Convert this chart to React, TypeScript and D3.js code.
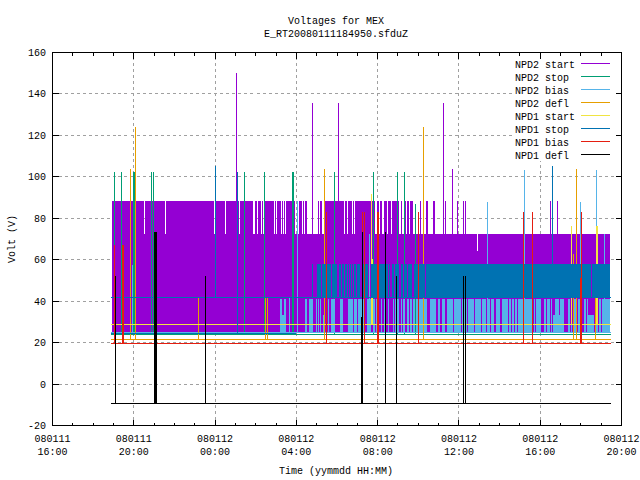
import React from "react";
import * as d3 from "d3";

// Time is hours since 080111 16:00; voltages in volts.
const titleLines = ["Voltages for MEX", "E_RT20080111184950.sfduZ"];
const xTickHours = [0, 4, 8, 12, 16, 20, 24, 28];
const xTickDates = ["080111", "080111", "080112", "080112", "080112", "080112", "080112", "080112"];
const xTickTimes = ["16:00", "20:00", "00:00", "04:00", "08:00", "12:00", "16:00", "20:00"];
const yTicks = [-20, 0, 20, 40, 60, 80, 100, 120, 140, 160];
const legendNames = ["NPD2 start", "NPD2 stop", "NPD2 bias", "NPD2 defl", "NPD1 start", "NPD1 stop", "NPD1 bias", "NPD1 defl"];
const colors = ["#9400d3", "#009e73", "#56b4e9", "#e69f00", "#f0e442", "#0072b2", "#e51e10", "#000000"];

const tStart = 2.95;
const tEnd = 27.46;
const lineEnd = 27.51;

const start2Floor = 24.4;
const start2Mid = 72;
const start2High = 88;
const start2DenseEnd = 17.08;
const start2Gaps: [number, number][] = [
  [4.53, 4.58], [5.56, 5.61], [7.97, 8.02], [8.51, 8.56], [9.2, 9.25], [9.89, 9.99], [10.09, 10.14], [10.29, 10.33],
  [10.38, 10.48], [10.92, 10.97], [11.02, 11.07], [11.27, 11.32], [11.37, 11.42], [11.47, 11.52], [11.96, 12.06],
  [12.11, 12.15], [12.3, 12.35], [12.4, 12.45], [12.55, 13.09], [13.14, 13.19], [13.29, 13.39], [14.37, 14.42],
  [14.52, 14.57], [14.76, 14.81], [14.86, 14.91], [15.9, 15.99], [16.09, 16.14], [16.24, 16.34], [16.49, 16.53],
  [16.68, 16.73],
];
const start2Stripes: [number, number][] = [
  [17.17, 17.22], [17.37, 17.42], [17.47, 17.57], [17.62, 17.76], [18.11, 18.16], [18.4, 18.5], [18.75, 18.85],
  [19.34, 19.39], [19.93, 19.98], [20.23, 20.27], [20.32, 20.37], [24.51, 24.56], [24.85, 24.9],
];
const start2MidGap: [number, number, number] = [20.91, 20.96, 64];
const start2Spikes: [number, number][] = [[9.05, 150], [12.79, 135.5], [14.07, 135.5], [19.24, 135.5], [19.68, 103.5]];

const stop2Base = 23.9;
const stop2Spikes: [number, number][] = [
  [3.05, 102], [3.4, 102], [3.99, 102], [4.04, 102], [4.87, 102], [4.97, 102], [9.45, 102], [10.43, 102], [11.81, 102],
  [11.86, 102], [13.88, 102], [15.8, 102], [16.98, 102], [17.32, 102], [17.86, 86.6],
];

const bias2Base = 24.85;
const bias2High = 41;
const bias2Low = 33;
const bias2Runs: [number, number][] = [
  [11.22, 11.32], [11.42, 11.52], [12.45, 12.55], [12.65, 12.84], [12.99, 13.04], [13.09, 13.14], [13.19, 13.24],
  [13.39, 13.43], [13.48, 13.53], [13.58, 13.63], [13.73, 13.93], [14.17, 14.32], [14.57, 14.81], [14.86, 15.01],
  [15.06, 15.26], [15.3, 15.4], [15.5, 15.7], [15.8, 15.9], [15.94, 16.04], [16.19, 16.24], [16.34, 16.44],
  [16.53, 16.58], [16.78, 16.83], [16.88, 17.08], [17.17, 17.22], [17.27, 17.37], [17.47, 17.57], [17.62, 17.72],
  [17.76, 17.86], [17.91, 18.45], [18.6, 18.9], [19.0, 19.09], [19.19, 19.34], [19.44, 19.73], [19.78, 20.13],
  [20.18, 20.42], [20.47, 20.77], [20.82, 21.11], [21.16, 21.36], [21.41, 21.55], [21.6, 21.75], [21.85, 22.05],
  [22.14, 22.44], [22.49, 22.59], [22.64, 22.74], [22.78, 22.88], [22.93, 23.67], [23.72, 23.77], [23.82, 24.06],
  [24.21, 24.31], [24.36, 24.51], [24.56, 24.6], [24.75, 24.95], [25.0, 25.2], [25.39, 25.49], [25.54, 25.59],
  [25.69, 25.84], [25.88, 25.98], [26.18, 26.28], [26.33, 26.38], [26.77, 26.87], [26.92, 27.02], [27.07, 27.46],
];
const bias2LowRuns: [number, number][] = [[11.32, 11.42], [13.34, 13.43], [24.65, 25.2], [26.38, 26.67]];
const bias2Spikes: [number, number][] = [
  [3.94, 57], [11.66, 42], [12.06, 88], [15.6, 72], [21.41, 87.5], [23.23, 103], [25.98, 87.5], [26.77, 103], [27.16, 72],
];

const defl2Base = 21.6;
const defl2Spikes: [number, number][] = [
  [3.84, 103.5], [4.08, 124], [7.18, 42], [10.48, 42], [10.58, 42], [13.39, 103.5], [18.26, 124], [25.64, 62.5],
  [25.79, 103.5], [26.72, 42],
];

const start1Base = 28.9;
const start1Spikes: [number, number][] = [[15.7, 91.5], [15.75, 60], [25.54, 76], [26.77, 76], [26.82, 76]];

const stop1Low = 42;
const stop1High = 57.5;
const stop1BandStart = 12.79;
const stop1FloorEnd = 12.0;
const stop1Gaps: [number, number][] = [
  [12.84, 13.04], [13.24, 13.29], [13.73, 13.78], [14.02, 14.12], [14.22, 14.27], [14.37, 14.42], [14.52, 14.57],
  [14.62, 14.66], [14.71, 14.76], [14.81, 14.86], [14.96, 15.01], [15.16, 15.3], [15.55, 15.7], [16.53, 16.58],
  [16.63, 16.73], [16.83, 16.88], [17.08, 17.17], [17.27, 17.32], [17.47, 17.52], [17.72, 17.81], [18.36, 18.4],
  [26.52, 26.57],
];
const stop1Spikes: [number, number, number][] = [[8.02, 105, 42], [9.1, 102, 24.4], [24.6, 105, 42]];

const bias1Base = 19.7;
const bias1Spikes: [number, number][] = [
  [3.05, 67], [3.44, 67], [3.49, 67], [13.48, 83], [15.26, 83], [15.35, 83], [15.99, 83], [16.04, 83], [18.01, 83],
  [23.18, 83], [23.62, 83], [25.98, 51], [26.03, 83],
];

const defl1Base = -9.2;
const defl1Spikes: [number, number][] = [
  [3.1, 52], [5.02, 73], [5.07, 73], [5.12, 73], [7.53, 52], [15.21, 32], [15.26, 73], [16.39, 73], [16.93, 52],
  [20.23, 52], [20.32, 52],
];

const font = "'Liberation Mono', monospace";
const fontSize = 10;
const gridColor = "#a0a0a0";

export default function App() {
  const x = d3.scaleLinear().domain([0, 28]).range([52.5, 621.5]);
  const y = d3.scaleLinear().domain([-20, 160]).range([425.5, 52.5]);
  const col = (h: number) => Math.round(x(h) - 0.5);
  const row = (v: number) => Math.round(y(v) - 0.5);

  const band = (a: number, b: number, lo: number, hi: number, color: string, key: string) => (
    <rect key={key} x={col(a)} width={Math.max(1, col(b) - col(a))} y={row(hi)} height={row(lo) - row(hi)} fill={color} />
  );
  const spike = (h: number, top: number, base: number, color: string, key: string) => (
    <rect key={key} x={col(h)} width={1} y={row(top)} height={row(base) - row(top)} fill={color} />
  );
  const hline = (v: number, a: number, b: number, color: string, key: string) => (
    <rect key={key} x={col(a)} width={col(b) - col(a)} y={row(v)} height={1} fill={color} />
  );

  // purple runs at the highest level: the complement of the gaps
  const highRuns: [number, number][] = [];
  let cursor = tStart;
  start2Gaps.forEach(([a, b]) => {
    highRuns.push([cursor, a]);
    cursor = b;
  });
  highRuns.push([cursor, start2DenseEnd]);
  start2Stripes.forEach((s) => highRuns.push(s));

  const stop1Runs: [number, number][] = [];
  cursor = stop1BandStart;
  stop1Gaps.forEach(([a, b]) => {
    stop1Runs.push([cursor, a]);
    cursor = b;
  });
  stop1Runs.push([cursor, tEnd]);

  const minorHours = d3.range(1, 28).filter((h) => h % 4 !== 0);
  const gridX = xTickHours.slice(1, -1);
  const gridY = yTicks.slice(1, -1);

  const text = { fontFamily: font, fontSize, fill: "#000" };

  return (
    <svg
      width={640}
      height={480}
      viewBox="0 0 640 480"
      style={{ position: "absolute", left: 0, top: 0, background: "#fff" }}
    >
      <g stroke={gridColor} strokeWidth={1} strokeDasharray="3 3" shapeRendering="crispEdges">
        {gridX.map((h) => (
          <line key={h} x1={x(h)} x2={x(h)} y1={y(-20)} y2={y(160)} />
        ))}
        {gridY.map((v) => (
          <line key={v} x1={x(0)} x2={x(28)} y1={y(v)} y2={y(v)} />
        ))}
      </g>

      <rect x={513} y={57} width={104} height={104} fill="#fff" />

      <g shapeRendering="crispEdges">
        {band(tStart, tEnd, start2Floor, start2Mid, colors[0], "s2-main")}
        {highRuns.map(([a, b], i) => band(a, b, start2Mid, start2High, colors[0], `s2-h${i}`))}
        {band(start2MidGap[0], start2MidGap[1], start2MidGap[2], start2Mid, "#fff", "s2-gap")}
        {start2Spikes.map(([h, t], i) => spike(h, t, start2Mid, colors[0], `s2-s${i}`))}

        {hline(stop2Base, tStart - 0.05, lineEnd, colors[1], "t2-base")}
        {stop2Spikes.map(([h, t], i) => spike(h, t, stop2Base, colors[1], `t2-s${i}`))}

        {hline(bias2Base, tStart - 0.05, lineEnd, colors[2], "b2-base")}
        {bias2Runs.map(([a, b], i) => band(a, b, bias2Base, bias2High, colors[2], `b2-r${i}`))}
        {bias2LowRuns.map(([a, b], i) => band(a, b, bias2Base, bias2Low, colors[2], `b2-l${i}`))}
        {bias2Spikes.map(([h, t], i) => spike(h, t, bias2Base, colors[2], `b2-s${i}`))}

        {hline(defl2Base, tStart - 0.05, lineEnd, colors[3], "d2-base")}
        {defl2Spikes.map(([h, t], i) => spike(h, t, defl2Base, colors[3], `d2-s${i}`))}

        {hline(start1Base, tStart - 0.05, lineEnd, colors[4], "s1-base")}
        {start1Spikes.map(([h, t], i) => spike(h, t, start1Base, colors[4], `s1-s${i}`))}

        {hline(stop1Low, tStart - 0.05, lineEnd, colors[5], "t1-low")}
        {hline(start2Floor, tStart - 0.05, stop1FloorEnd, colors[5], "t1-floor")}
        {stop1Runs.map(([a, b], i) => band(a, b, stop1Low, stop1High, colors[5], `t1-r${i}`))}
        {stop1Spikes.map(([h, t, b], i) => spike(h, t, b, colors[5], `t1-s${i}`))}

        {hline(bias1Base, tStart - 0.05, lineEnd, colors[6], "b1-base")}
        {bias1Spikes.map(([h, t], i) => spike(h, t, bias1Base, colors[6], `b1-s${i}`))}

        {hline(defl1Base, tStart - 0.05, lineEnd, colors[7], "d1-base")}
        {defl1Spikes.map(([h, t], i) => spike(h, t, defl1Base, colors[7], `d1-s${i}`))}
      </g>

      <g stroke="#000" strokeWidth={1} shapeRendering="crispEdges" fill="none">
        <rect x={x(0)} y={y(160)} width={x(28) - x(0)} height={y(-20) - y(160)} />
        {yTicks.map((v) => (
          <g key={v}>
            <line x1={x(0)} x2={x(0) + 6} y1={y(v)} y2={y(v)} />
            <line x1={x(28)} x2={x(28) - 6} y1={y(v)} y2={y(v)} />
          </g>
        ))}
        {xTickHours.map((h) => (
          <g key={h}>
            <line x1={x(h)} x2={x(h)} y1={y(-20)} y2={y(-20) - 6} />
            <line x1={x(h)} x2={x(h)} y1={y(160)} y2={y(160) + 6} />
          </g>
        ))}
        {minorHours.map((h) => (
          <g key={h}>
            <line x1={x(h)} x2={x(h)} y1={y(-20)} y2={y(-20) - 3} />
            <line x1={x(h)} x2={x(h)} y1={y(160)} y2={y(160) + 3} />
          </g>
        ))}
      </g>

      <g {...text} textAnchor="middle">
        <text x={336} y={24}>{titleLines[0]}</text>
        <text x={336} y={37}>{titleLines[1]}</text>
        {xTickHours.map((h, i) => (
          <g key={h}>
            <text x={x(h)} y={442}>{xTickDates[i]}</text>
            <text x={x(h)} y={455}>{xTickTimes[i]}</text>
          </g>
        ))}
        <text x={336} y={474}>Time (yymmdd HH:MM)</text>
        <text transform="translate(15,239) rotate(-90)">Volt (V)</text>
      </g>
      <g {...text} textAnchor="end">
        {yTicks.map((v) => (
          <text key={v} x={46} y={y(v) + 3.5}>{v}</text>
        ))}
      </g>
      <g {...text}>
        {legendNames.map((name, i) => (
          <g key={name}>
            <text x={515} y={67.5 + i * 13}>{name}</text>
            <line x1={581} x2={610} y1={63.5 + i * 13} y2={63.5 + i * 13} stroke={colors[i]} strokeWidth={1} shapeRendering="crispEdges" />
          </g>
        ))}
      </g>
    </svg>
  );
}
